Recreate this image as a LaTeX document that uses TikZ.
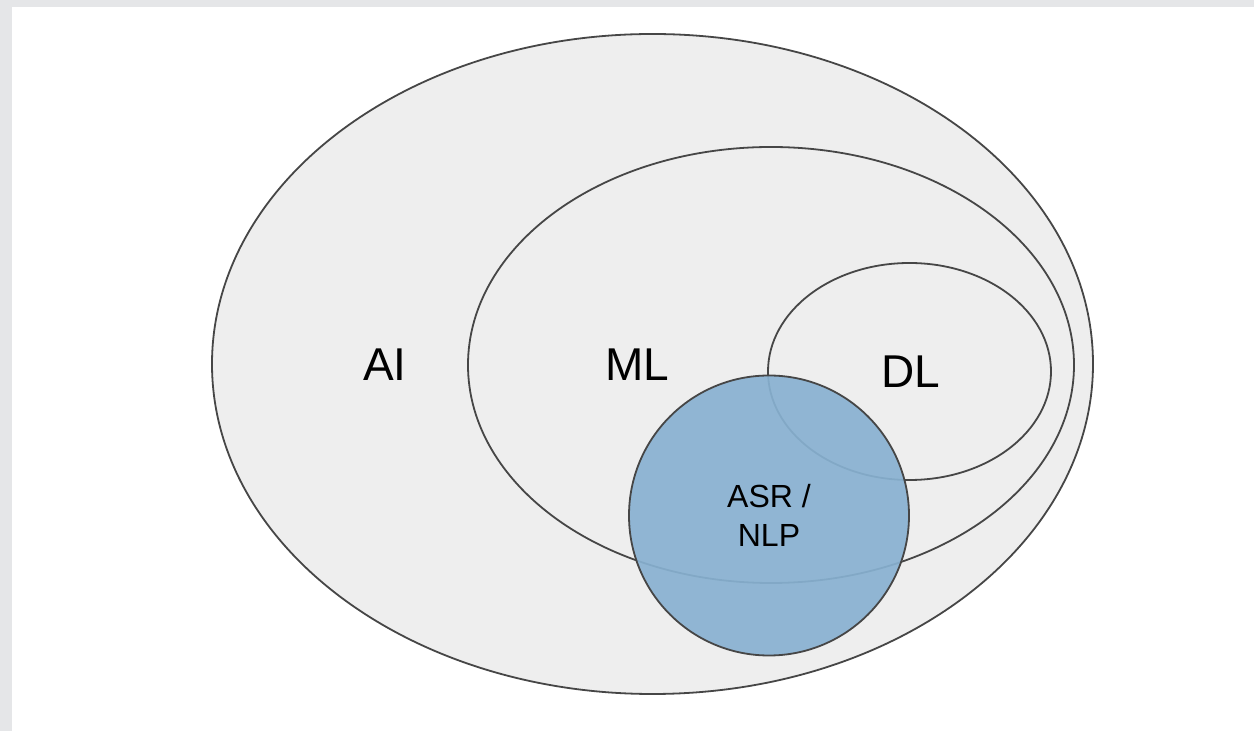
\documentclass[tikz,border=0pt]{standalone}
\usepackage{fontspec}
\setmainfont{Liberation Sans}
\usetikzlibrary{shapes.geometric}
\definecolor{framegray}{RGB}{229,230,232}
\definecolor{setgray}{RGB}{238,238,238}
\definecolor{setline}{RGB}{70,70,70}
\definecolor{asrblue}{RGB}{136,177,209}
\tikzset{set field/.style={draw=setline, fill=setgray, ellipse, line width=0.9pt, inner sep=0pt}}
\tikzset{set label/.style={font=\fontsize{23}{27}\selectfont, inner sep=0pt}}
\tikzset{small set label/.style={font=\fontsize{16}{19.5}\selectfont, align=center, inner sep=0pt}}

\begin{document}
\begin{tikzpicture}[x=0.5pt, y=-0.5pt]
\useasboundingbox (0,0) rectangle (1254,731);
\fill[framegray] (0,0) rectangle (1254,731);
\fill[white] (12,7) rectangle (1254,731);
\node[set field, minimum width=440.5pt, minimum height=330pt] (ai) at (652.5,364) {};
\node[set field, minimum width=303pt, minimum height=218pt] (ml) at (771,365) {};
\node[set field, minimum width=141.5pt, minimum height=108.5pt] (dl) at (909.5,371.5) {};
\node[set field, circle, fill=asrblue, fill opacity=0.92, minimum size=140pt] (asr) at (769,515.5) {};
\node[set label] (ailabel) at (385,365) {AI};
\node[set label] (mllabel) at (637,365) {ML};
\node[set label] (dllabel) at (911,372) {DL};
\node[small set label] (asrlabel) at (asr) {ASR /\\NLP};
\end{tikzpicture}
\end{document}
